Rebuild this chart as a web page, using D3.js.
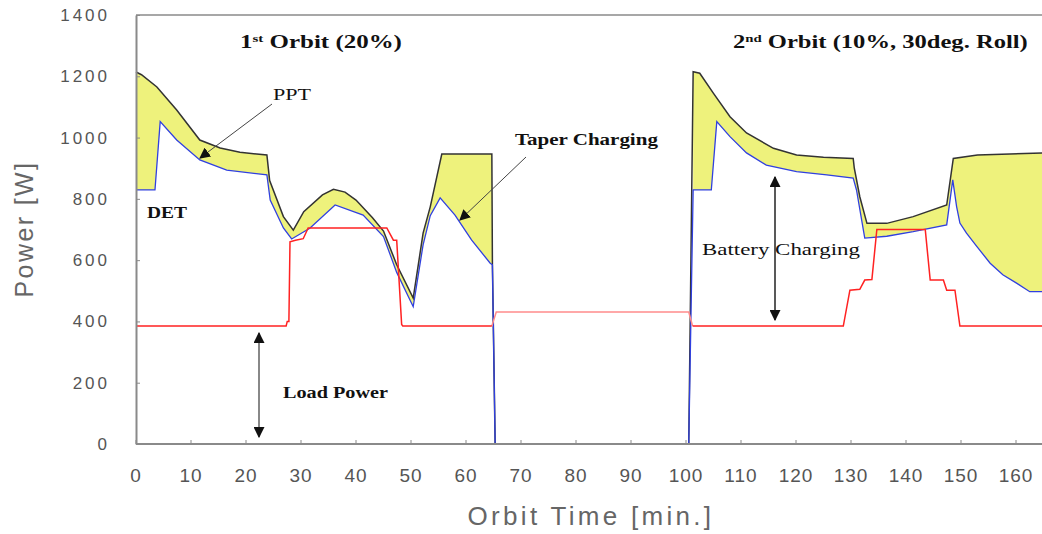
<!DOCTYPE html>
<html>
<head>
<meta charset="utf-8">
<script src="https://cdn.jsdelivr.net/npm/d3@7.9.0/dist/d3.min.js"></script>
<style>
  html, body { margin: 0; padding: 0; background: #fff; }
  svg { display: block; }
  .axis text { font-family: "Liberation Sans", Arial, sans-serif; fill: #555; }
  .axis path, .axis line { stroke: #8a8a8a; }
  .note { font-family: "Liberation Serif", "Times New Roman", serif; fill: #111; }
</style>
</head>
<body>
<svg id="chart" width="1042" height="534"></svg>
<script>
// PPT (peak power tracking) power, [time min, W]
const ppt1 = [
  [0, 1214], [1, 1205], [3.8, 1165], [7.4, 1090], [11.6, 992], [15.3, 966],
  [18.9, 952], [23.8, 943], [24.3, 860], [26.8, 742], [28.6, 698], [30.5, 758],
  [33.9, 813], [35.9, 831], [38, 822], [40, 796], [43, 738], [45, 695],
  [47.4, 585], [50.4, 476], [52.2, 688], [53.5, 774], [55.6, 946], [64.7, 946],
  [64.8, 590]
];
const ppt2 = [
  [101.3, 1215], [102.5, 1210], [105, 1144], [108, 1068], [111, 1015],
  [115.9, 965], [120.1, 943], [125, 936], [130.4, 932], [130.6, 900],
  [131.6, 807], [132.9, 720], [136.5, 720], [141.3, 742], [147.4, 780],
  [148.6, 932], [153, 943], [165, 950]
];
// DET (direct energy transfer) power
const det1 = [
  [0, 829], [3.45, 829], [4.4, 1052], [7.4, 992], [11.6, 927], [16.5, 894],
  [23.8, 878], [24.4, 796], [26.8, 705], [28.3, 669], [31.6, 704], [36.2, 780],
  [41.3, 747], [45, 677], [47.4, 560], [50.4, 448], [52.2, 650], [53.5, 745],
  [55.3, 803], [58, 747], [61, 666], [64.4, 590], [64.8, 585]
];
const det2 = [
  [101.3, 829], [104.6, 829], [105.6, 1052], [108, 1003], [111, 950],
  [114.6, 910], [120.1, 889], [125.6, 878], [130.4, 868], [131, 829],
  [132.5, 672], [136.5, 678], [141.3, 693], [147.4, 715], [148.5, 862],
  [149.2, 775], [149.8, 721], [151, 688], [152.9, 644], [155.3, 590],
  [157.6, 552], [160.1, 525], [162.5, 497], [165, 497]
];
// array output in eclipse
const eclipse = [[65.3, 0], [100.5, 0]];
// load power
const load1 = [
  [0, 385], [27.3, 385], [27.5, 400], [27.8, 400], [28.0, 660], [29.0, 665],
  [30.4, 670], [31.3, 705], [45.6, 705], [46.8, 665], [47.4, 665], [48.3, 390],
  [48.5, 385], [64.7, 385]
];
const loadEclipse = [[64.7, 385], [65.5, 431], [100.5, 431], [101.2, 385]];
const load2 = [
  [101.2, 385], [128.6, 385], [129.8, 502], [131.6, 505], [132.5, 535],
  [133.8, 537], [134.7, 700], [143.5, 700], [144.4, 535], [146.8, 535],
  [147.4, 502], [148.9, 502], [149.8, 385], [165, 385]
];
const xTicks = d3.range(0, 161, 10);
const yTicks = d3.range(0, 1401, 200);

const svg = d3.select('#chart');
const x = d3.scaleLinear().domain([0, 165]).range([136, 1043.5]);
const y = d3.scaleLinear().domain([0, 1400]).range([444, 15]);
const line = d3.line().x(d => x(d[0])).y(d => y(d[1]));

// yellow band between PPT and DET
[[ppt1, det1], [ppt2, det2]].forEach(([top, bottom]) => {
  svg.append('path')
    .attr('d', line(top.concat(bottom.slice().reverse())) + 'Z')
    .attr('fill', '#eef27c')
    .attr('stroke', 'none');
});

svg.append('path')
  .attr('d', line(ppt1.concat(eclipse, ppt2)))
  .attr('fill', 'none').attr('stroke', '#333').attr('stroke-width', 1.5);
svg.append('path')
  .attr('d', line(det1.concat(eclipse, det2)))
  .attr('fill', 'none').attr('stroke', '#3040e0').attr('stroke-width', 1.3);
svg.append('path')
  .attr('d', line(loadEclipse))
  .attr('fill', 'none').attr('stroke', '#ff8c8c').attr('stroke-width', 1.5);
[load1, load2].forEach(d => {
  svg.append('path')
    .attr('d', line(d))
    .attr('fill', 'none').attr('stroke', '#ff2222').attr('stroke-width', 1.5);
});

// axes (drawn over the data so the zero line hides the eclipse trace)
const yAxis = svg.append('g').attr('class', 'axis')
  .attr('transform', `translate(${x(0)},0)`)
  .call(d3.axisLeft(y).tickValues(yTicks).tickFormat(d3.format('d'))
    .tickSizeInner(-4).tickSizeOuter(0).tickPadding(26));
yAxis.selectAll('text').style('font-size', '17px').style('letter-spacing', '3px');
const xAxis = svg.append('g').attr('class', 'axis')
  .attr('transform', `translate(0,${y(0)})`)
  .call(d3.axisBottom(x).tickValues(xTicks).offset(0)
    .tickSizeInner(-4).tickSizeOuter(0).tickPadding(25));
xAxis.selectAll('text').style('font-size', '19px').style('letter-spacing', '1px');
svg.selectAll('.axis .domain').attr('stroke-width', 2);
svg.append('line')
  .attr('x1', x(0)).attr('x2', 1042).attr('y1', y(1400)).attr('y2', y(1400))
  .attr('stroke', '#8a8a8a').attr('stroke-width', 1.5);

svg.append('text').attr('class', 'axis')
  .attr('x', 591).attr('y', 525).attr('text-anchor', 'middle')
  .style('font-family', '"Liberation Sans", Arial, sans-serif')
  .style('font-size', '26px').style('letter-spacing', '3.3px').attr('fill', '#666')
  .text('Orbit Time [min.]');
svg.append('text')
  .attr('transform', 'translate(33,229) rotate(-90)').attr('text-anchor', 'middle')
  .style('font-family', '"Liberation Sans", Arial, sans-serif')
  .style('font-size', '25px').style('letter-spacing', '2.4px').attr('fill', '#666')
  .text('Power [W]');

// annotations
const defs = svg.append('defs');
defs.append('marker').attr('id', 'head')
  .attr('viewBox', '0 0 10 10').attr('refX', 9).attr('refY', 5)
  .attr('markerWidth', 11).attr('markerHeight', 11).attr('markerUnits', 'userSpaceOnUse')
  .attr('orient', 'auto-start-reverse')
  .append('path').attr('d', 'M0,0L10,5L0,10Z').attr('fill', '#111');

function note(parts, px, py, size, weight, width) {
  const g = svg.append('g');
  const t = g.append('text').attr('class', 'note')
    .style('font-size', size + 'px').style('font-weight', weight);
  parts.forEach(p => {
    const s = t.append('tspan').text(p.t);
    if (p.sup) s.attr('baseline-shift', 'super').style('font-size', (size * 0.6) + 'px');
  });
  const w = t.node().getComputedTextLength();
  g.attr('transform', `translate(${px},${py}) scale(${width / w},1)`);
}
note([{ t: '1' }, { t: 'st', sup: true }, { t: ' Orbit (20%)' }], 240, 48, 18, 'bold', 162);
note([{ t: '2' }, { t: 'nd', sup: true }, { t: ' Orbit (10%, 30deg. Roll)' }], 733, 48, 18, 'bold', 295);
note([{ t: 'PPT' }], 273, 100, 16, 'normal', 38);
note([{ t: 'DET' }], 147, 218, 16, 'bold', 40);
note([{ t: 'Taper Charging' }], 515, 145, 16, 'bold', 143);
note([{ t: 'Load Power' }], 283, 398, 16, 'bold', 105);
note([{ t: 'Battery Charging' }], 702, 255, 16, 'normal', 158);

const arrows = [
  { x1: 272, y1: 104, x2: 200, y2: 158, color: '#444', w: 1, both: false },
  { x1: 526, y1: 157, x2: 460, y2: 220, color: '#444', w: 1, both: false },
  { x1: 259, y1: 333, x2: 259, y2: 437, color: '#888', w: 2, both: true },
  { x1: 775, y1: 177, x2: 775, y2: 320, color: '#222', w: 1.5, both: true }
];
arrows.forEach(a => {
  svg.append('line')
    .attr('x1', a.x1).attr('y1', a.y1).attr('x2', a.x2).attr('y2', a.y2)
    .attr('stroke', a.color).attr('stroke-width', a.w)
    .attr('marker-end', 'url(#head)')
    .attr('marker-start', a.both ? 'url(#head)' : null);
});
</script>
</body>
</html>
